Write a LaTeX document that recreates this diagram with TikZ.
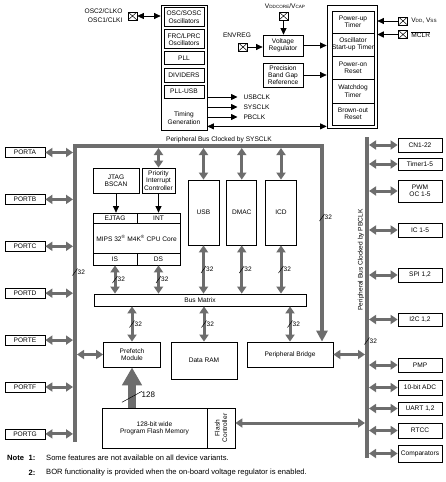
\documentclass[tikz,border=0pt]{standalone}
\usepackage{fontspec}
\setmainfont{Liberation Sans}
\usepackage{xcolor}
\usetikzlibrary{arrows.meta, positioning, calc}

\definecolor{busgray}{HTML}{6D6D6D}
\newcommand{\smc}[1]{{\fontsize{4.6}{5}\selectfont #1}}
% slash and bus width label at a coordinate
\newcommand{\buswd}[3]{%
  \draw[slash] ($(#1)+(-2.5,3.5)$) -- ($(#1)+(2.5,-3.5)$);
  \node[wlab, right=2.5pt of #1] (#2) {#3};}

\begin{document}
\begin{tikzpicture}[
    x=1pt, y=-1pt,
    font=\fontsize{6.6}{7.3}\selectfont,
    node distance=2.3pt,
    box/.style={draw, line width=0.75pt, inner sep=0pt, align=center},
    sub/.style={box, minimum width=40pt},
    rstbox/.style={box, minimum width=42pt},
    port/.style={box, minimum width=40pt, minimum height=10pt},
    periph/.style={box, minimum width=44pt},
    pin/.style={draw, line width=0.6pt, minimum width=9pt, minimum height=8pt, inner sep=0pt,
        path picture={\draw[line width=0.5pt] (path picture bounding box.north west) -- (path picture bounding box.south east)
            (path picture bounding box.south west) -- (path picture bounding box.north east);}},
    arrow/.style={-{Triangle[width=6pt,length=6.5pt]}, line width=0.75pt},
    both/.style={{Triangle[width=6pt,length=6.5pt]}-{Triangle[width=6pt,length=6.5pt]}, line width=0.75pt},
    dbl/.style={busgray, line width=3pt, {Triangle[width=9pt,length=7pt]}-{Triangle[width=9pt,length=7pt]}},
    bus/.style={busgray, line width=4pt},
    slash/.style={line width=0.5pt},
    wlab/.style={font=\fontsize{6.5}{7}\selectfont, inner sep=0pt},
    note/.style={font=\fontsize{7.6}{9}\selectfont, inner sep=0pt}
]
\useasboundingbox (0,0) rectangle (445,482);

% clock block
\node[box, minimum width=46pt, minimum height=125pt] (clk) at (184,67.5) {};
\node[sub, minimum height=19.5pt] (osc) at (184,17) {OSC/SOSC\\Oscillators};
\node[sub, minimum height=19pt, below=of osc] (frc) {FRC/LPRC\\Oscillators};
\node[sub, minimum height=13pt, below=of frc] (pll) {PLL};
\node[sub, minimum height=14pt, below=of pll] (div) {DIVIDERS};
\node[sub, minimum height=13pt, below=of div] (pllusb) {PLL-USB};
\node[align=center] (tgen) at (184,118) {Timing\\Generation};

\node[anchor=east] (osc2) at (126,11.5) {OSC2/CLKO};
\node[anchor=east] (osc1) at (126,20.5) {OSC1/CLKI};
\node[pin] (posc) at (132.5,16) {};
\draw[both] (posc.east) -- (posc.east -| clk.west);

\node[anchor=west] (usbclk) at (240,97) {USBCLK};
\node[anchor=west] (sysclk) at (240,107) {SYSCLK};
\node[anchor=west] (pbclk) at (240,117) {PBCLK};
\foreach \c in {usbclk, sysclk, pbclk}
  \draw[arrow] (\c.west -| clk.east) -- ([xshift=-2.5pt]\c.west);

% reset block
\node[box, minimum width=50pt, minimum height=123pt] (rst) at (352,66.5) {};
\node[rstbox, minimum height=22pt] (put) at (353,22) {Power-up\\Timer};
\node[rstbox, minimum height=23pt, below=-0.75pt of put] (ost) {Oscillator\\Start-up Timer};
\node[rstbox, minimum height=23pt, below=-0.75pt of ost] (por) {Power-on\\Reset};
\node[rstbox, minimum height=24pt, below=-0.75pt of por] (wdt) {Watchdog\\Timer};
\node[rstbox, minimum height=22pt, below=-0.75pt of wdt] (bor) {Brown-out\\Reset};

\coordinate (tg) at ([yshift=4pt]clk.south east);
\draw[both] (tg) -- (tg -| rst.west);

\node[pin] (pvdd) at (403,21) {};
\node[anchor=west] (vdd) at (pvdd.east) {V\smc{DD}, V\smc{SS}};
\node[pin] (pmclr) at (403,34.5) {};
\node[anchor=west] (mclr) at (pmclr.east) {$\overline{\mbox{MCLR}}$};
\draw[arrow] (pvdd.west) -- (pvdd.west -| rst.east);
\draw[arrow, line width=1.4pt] (pmclr.west) -- (pmclr.west -| rst.east);

% regulator
\node[sub, minimum height=21pt] (vreg) at (283,45.5) {Voltage\\Regulator};
\node[sub, minimum height=24pt] (bgr) at (283,75) {Precision\\Band Gap\\Reference};
\node[pin] (pvcap) at (283.5,16) {};
\node (vcap) at (285,6) {V\smc{DDCORE}/V\smc{CAP}};
\draw[arrow] (pvcap.south) -- (pvcap.south |- vreg.north);
\node[pin] (penv) at (243,47) {};
\node (envreg) at (237,35.5) {ENVREG};
\draw[arrow] (penv.east) -- (penv.east -| vreg.west);
\draw[arrow] (vreg.east) -- (vreg.east -| rst.west);
\draw[arrow] (bgr.east) -- (bgr.east -| rst.west);

% cpu
\node[box, minimum width=46pt, minimum height=25pt] (jtag) at (116,180.5) {JTAG\\BSCAN};
\node[box, minimum width=33pt, minimum height=25pt] (pic) at (158.5,180.5) {Priority\\Interrupt\\Controller};
\node[box, minimum width=44pt, minimum height=10pt] (ejtag) at (115,218) {EJTAG};
\node[box, minimum width=43pt, minimum height=10pt] (int) at (158.5,218) {INT};
\node[box, minimum width=87pt, minimum height=30pt] (core) at (136.5,238) {MIPS 32\textsuperscript{\textregistered} M4K\textsuperscript{\textregistered} CPU Core};
\node[box, minimum width=44pt, minimum height=12pt] (is) at (115,259) {IS};
\node[box, minimum width=43pt, minimum height=12pt] (ds) at (158.5,259) {DS};
\draw[arrow] (jtag.south) -- (jtag.south |- ejtag.north);
\draw[arrow] (pic.south) -- (pic.south |- int.north);

\node[box, minimum width=31pt, minimum height=65pt] (usb) at (203.5,212.5) {USB};
\node[box, minimum width=30pt, minimum height=65pt, right=7pt of usb] (dmac) {DMAC};
\node[box, minimum width=31pt, minimum height=65pt, right=8pt of dmac] (icd) {ICD};

\node[box, minimum width=212pt, minimum height=12pt] (bm) at (200,300) {Bus Matrix};
\node[box, minimum width=57pt, minimum height=25pt] (pref) at (132,354.5) {Prefetch\\Module};
\node[box, minimum width=66pt, minimum height=37pt] (ram) at (204,360.5) {Data RAM};
\node[box, minimum width=86pt, minimum height=25pt] (pbr) at (290,354.5) {Peripheral Bridge};
\node[box, minimum width=105pt, minimum height=40pt] (flash) at (154.5,428) {128-bit wide\\Program Flash Memory};
\node[box, minimum width=28pt, minimum height=40pt, right=-0.75pt of flash] (fctl) {};
\node[rotate=90, align=center, inner sep=0pt] (fctltxt) at (fctl) {Flash\\Controller};

% buses
\coordinate (sysL) at (75,442);
\coordinate (sysR) at (322,146);
\coordinate (rbusT) at (367,137);
\coordinate (rbusB) at (367,458);
\draw[bus, -{Triangle[width=11pt,length=11pt]}] (sysL) |- (sysR) -- (sysR |- pbr.north);
\draw[bus] (rbusT) -- (rbusB);
\node (sysbus) at (219,139.5) {Peripheral Bus Clocked by SYSCLK};
\node[rotate=90] (pbbus) at (361,260) {Peripheral Bus Clocked by PBCLK};

% ports
\foreach \p [count=\i from 0] in {A,B,C,D,E,F,G} {
  \node[port] (port\p) at (25,{152.5+46.9*\i}) {PORT\p};
  \draw[dbl, shorten >=2pt] (port\p.east) -- (port\p.east -| sysL);
}

% peripherals on PBCLK bus
\foreach \py/\ph/\ptxt/\pname in {145/14/CN1-22/cn, 164/12/Timer1-5/tmr, 191/22/{PWM\\OC 1-5}/pwm,
    230/14/IC 1-5/ic, 275/14/{SPI 1,2}/spi, 319.5/13/{I2C 1,2}/iic, 365/14/PMP/pmp,
    387.5/15/10-bit ADC/adc, 408.5/13/{UART 1,2}/uart, 430.5/15/RTCC/rtcc, 453.5/17/Comparators/cmp} {
  \node[periph, minimum height=\ph pt] (\pname) at (420,\py) {\ptxt};
  \draw[dbl, shorten <=2pt] (\pname.west -| rbusT) -- (\pname.west);
}

% bus connections
\draw[dbl, shorten >=2pt] (pic.north) -- (pic.north |- sysR);
\foreach \m in {usb, dmac, icd} {
  \draw[dbl, shorten >=2pt] (\m.north) -- (\m.north |- sysR);
  \draw[dbl] (\m.south) -- (\m.south |- bm.north) coordinate[midway] (\m-w);
  \buswd{\m-w}{\m-l}{32}
}
\foreach \m in {is, ds} {
  \draw[dbl] (\m.south) -- (\m.south |- bm.north) coordinate[midway] (\m-w);
  \buswd{\m-w}{\m-l}{32}
}
\foreach \m in {pref, ram, pbr} {
  \draw[dbl] (bm.south -| \m.north) -- (\m.north) coordinate[midway] (\m-w);
  \buswd{\m-w}{\m-l}{32}
}
\draw[dbl, shorten >=2pt] (pref.west) -- (pref.west -| sysL);
\draw[dbl, shorten >=2pt] (pbr.east) -- (pbr.east -| rbusT);
\coordinate (fc) at ([yshift=5pt]fctl.east);
\draw[dbl, shorten >=2pt] (fc) -- (fc -| rbusT);

% 128-bit path
\draw[busgray, line width=8pt, -{Triangle[width=19pt,length=18pt]}] (flash.north -| pref.south) -- (pref.south) coordinate[pos=0.27] (bw);
\draw[slash] ($(bw)+(-10,5.5)$) -- ($(bw)+(10,-5.5)$);
\node[wlab, font=\fontsize{8}{9}\selectfont, anchor=west] (bwl) at ($(bw)+(9.5,-2)$) {128};

\coordinate (lw) at (75,272);
\buswd{lw}{lwl}{32}
\coordinate (rw) at (322,217.5);
\buswd{rw}{rwl}{32}
\coordinate (pw) at (367,341);
\buswd{pw}{pwl}{32}

% notes
\node[note, anchor=west] (notelbl) at (7,458) {\bfseries Note};
\node[note, anchor=east] (n1) at (35.5,458) {\bfseries 1:};
\node[note, anchor=east] (n2) at (35.5,473) {\bfseries 2:};
\node[note, anchor=west] (t1) at (46,458) {Some features are not available on all device variants.};
\node[note, anchor=west] (t2) at (46,473) {BOR functionality is provided when the on-board voltage regulator is enabled.};

\end{tikzpicture}
\end{document}
